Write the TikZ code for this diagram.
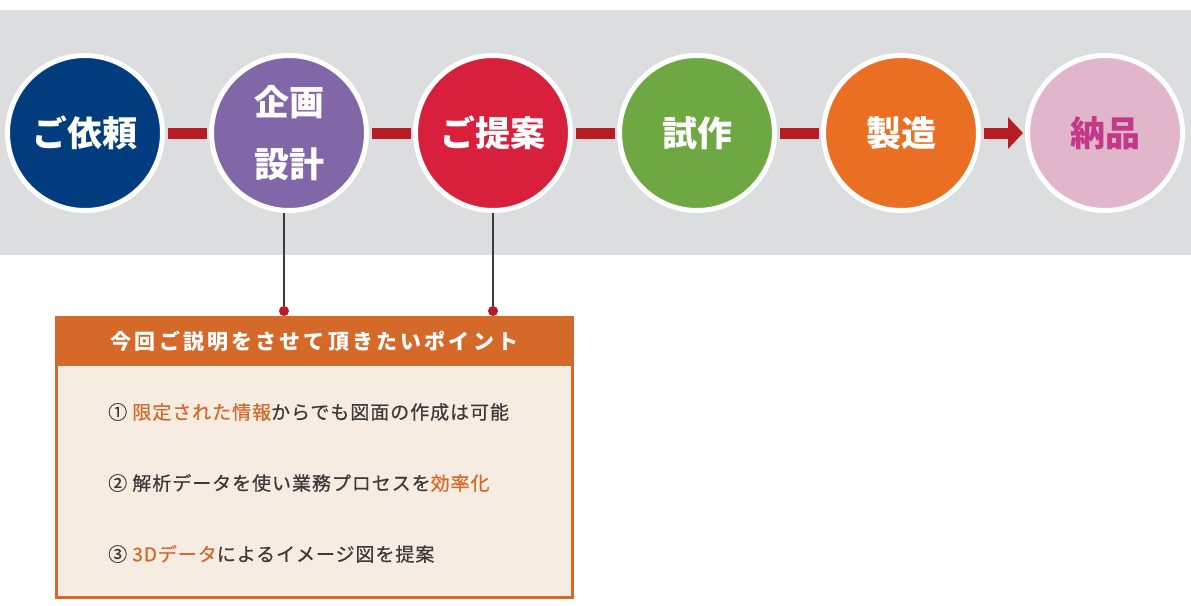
\documentclass[tikz,border=0pt]{standalone}
\usepackage{fontspec}
\setmainfont{Noto Sans CJK JP}
\newfontfamily\jpfont{Noto Sans CJK JP}
\usetikzlibrary{arrows.meta}
\definecolor{bandgray}{HTML}{DCDDDF}
\definecolor{cnavy}{HTML}{003C7E}
\definecolor{cpurple}{HTML}{8267A8}
\definecolor{cred}{HTML}{D81F3C}
\definecolor{cgreen}{HTML}{6DA843}
\definecolor{corange}{HTML}{EA6F22}
\definecolor{cpink}{HTML}{E1B6CB}
\definecolor{cmagenta}{HTML}{C2398A}
\definecolor{barred}{HTML}{B71C22}
\definecolor{boxorange}{HTML}{D4692A}
\definecolor{boxfill}{HTML}{F7ECE2}
\definecolor{txtgray}{HTML}{3A3A3A}
\definecolor{dotred}{HTML}{B71C22}
\tikzset{
  stepcircle/.style={circle, draw=white, line width=5pt, minimum size=155pt, inner sep=0pt,
    text=white, font=\jpfont\bfseries\fontsize{35}{40}\selectfont, align=center},
  flowbar/.style={draw=barred, line width=11pt, shorten <=2.5pt, shorten >=2.5pt},
  lead/.style={draw=txtgray, line width=1.3pt},
  leaddot/.style={circle, fill=dotred, minimum size=10pt, inner sep=0pt},
  itemtext/.style={anchor=west, inner sep=0pt, text=txtgray,
    font=\jpfont\fontsize{19}{21}\selectfont\addfontfeature{LetterSpace=5,FakeBold=0.6}},
}
\newcommand{\hlt}[1]{\textcolor{boxorange}{#1}}
\begin{document}
\begin{tikzpicture}[x=1pt,y=-1pt]
\useasboundingbox (0,0) rectangle (1191,605);
% gray band
\fill[bandgray] (0,10) rectangle (1191,255);
% steps
\node[stepcircle, fill=cnavy] (c1) at (85,133) {ご依頼};
\node[stepcircle, fill=cpurple] (c2) at (289,133) {企画\\[22pt]設計};
\node[stepcircle, fill=cred] (c3) at (493,133) {ご提案};
\node[stepcircle, fill=cgreen] (c4) at (697,133) {試作};
\node[stepcircle, fill=corange] (c5) at (901,133) {製造};
\node[stepcircle, fill=cpink, text=cmagenta] (c6) at (1105,133) {納品};
% bars
\draw[flowbar] (c1.east) -- (c2.west);
\draw[flowbar] (c2.east) -- (c3.west);
\draw[flowbar] (c3.east) -- (c4.west);
\draw[flowbar] (c4.east) -- (c5.west);
\draw[flowbar, shorten >=2pt, -{Triangle[length=15pt,width=31pt]}] (c5.east) -- (c6.west);
% box
\node[draw=boxorange, line width=3pt, fill=boxfill, minimum width=516pt, minimum height=280pt,
  inner sep=0pt, anchor=north west] (box) at (55,316) {};
\node[fill=boxorange, minimum width=519pt, minimum height=50pt, inner sep=0pt, outer sep=0pt,
  anchor=north, text=white, font=\jpfont\bfseries\fontsize{21}{23}\selectfont\addfontfeature{LetterSpace=15}]
  (head) at (box.north) {今回ご説明をさせて頂きたいポイント};
% leads
\node[leaddot] (d1) at (284,311) {};
\node[leaddot] (d2) at (493,311) {};
\draw[lead] (d1 |- c2.south) -- (d1);
\draw[lead] (d2 |- c3.south) -- (d2);
% items
\node[itemtext] (i1) at (108,412) {① \hlt{限定された情報}からでも図面の作成は可能};
\node[itemtext] (i2) at (108,483) {② 解析データを使い業務プロセスを\hlt{効率化}};
\node[itemtext] (i3) at (108,554) {③ \hlt{3Dデータ}によるイメージ図を提案};
\end{tikzpicture}
\end{document}
